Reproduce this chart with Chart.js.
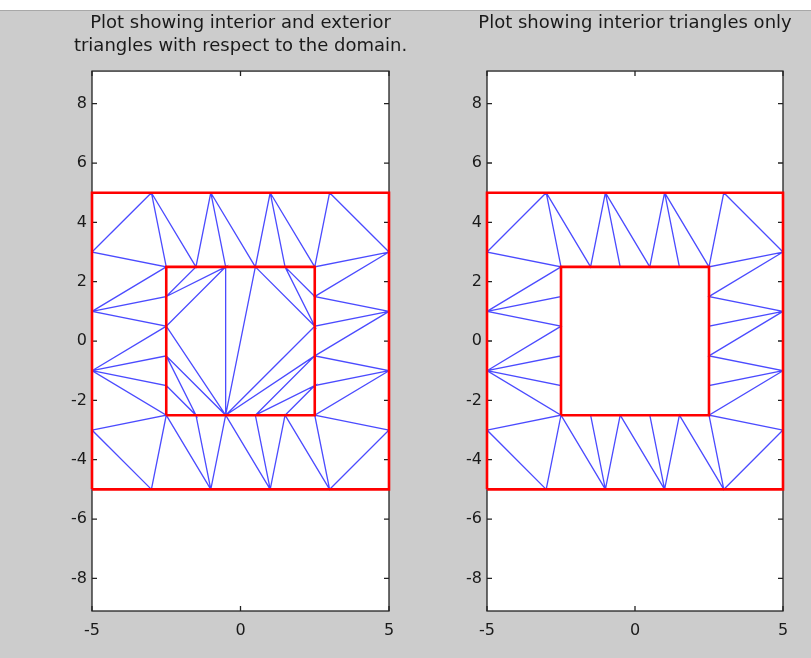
<!DOCTYPE html>
<html lang="en">
<head>
  <meta charset="UTF-8" />
  <title>Interior and exterior triangles</title>
  <script src="https://cdn.jsdelivr.net/npm/chart.js"></script>
  <style>
    body { margin: 0; background: #cccccc; width: 811px; height: 658px; overflow: hidden; position: relative; }
    #strip { position: absolute; left: 0; top: 0; width: 811px; height: 10px; background: #fff; border-bottom: 1px solid #a8a8a8; }
    canvas { position: absolute; top: 0; }
    #left { left: 0; }
    #right { left: 459px; }
  </style>
</head>
<body>
  <div id="strip"></div>
  <canvas id="left" width="481" height="658"></canvas>
  <canvas id="right" width="352" height="658"></canvas>
  <script>
  // mesh nodes: 20 on the outer square, 20 on the inner square
  const nodeX = [-5, -3, -1, 1, 3, 5, 5, 5, 5, 5, 5, 3, 1, -1, -3, -5, -5, -5, -5, -5,
                 -2.5, -1.5, -0.5, 0.5, 1.5, 2.5, 2.5, 2.5, 2.5, 2.5, 2.5, 1.5, 0.5, -0.5, -1.5, -2.5, -2.5, -2.5, -2.5, -2.5];
  const nodeY = [-5, -5, -5, -5, -5, -5, -3, -1, 1, 3, 5, 5, 5, 5, 5, 5, 3, 1, -1, -3,
                 -2.5, -2.5, -2.5, -2.5, -2.5, -2.5, -1.5, -0.5, 0.5, 1.5, 2.5, 2.5, 2.5, 2.5, 2.5, 2.5, 1.5, 0.5, -0.5, -1.5];

  // triangles between the two squares (inside the domain)
  const ringTri = [
    [15, 14, 16], [14, 16, 35], [14, 35, 34], [14, 13, 34], [13, 34, 33], [13, 33, 32],
    [13, 12, 32], [12, 32, 31], [12, 31, 30], [12, 11, 30], [11, 30, 9], [11, 10, 9],
    [9, 30, 29], [9, 29, 8], [8, 29, 28], [8, 28, 27], [8, 27, 7], [7, 27, 26], [7, 26, 25], [7, 25, 6],
    [6, 25, 4], [6, 4, 5], [4, 25, 24], [4, 24, 3], [3, 24, 23], [3, 23, 22],
    [3, 22, 2], [2, 22, 21], [2, 21, 20], [2, 20, 1], [1, 20, 19], [1, 19, 0],
    [19, 20, 18], [18, 20, 39], [18, 39, 38], [18, 38, 37], [18, 37, 17], [17, 37, 36], [17, 36, 35], [17, 35, 16]
  ];

  // triangles filling the hole (outside the domain)
  const holeTri = [
    [35, 34, 36], [36, 34, 33], [36, 33, 37], [37, 33, 22], [37, 22, 38], [38, 22, 21], [38, 21, 39], [39, 21, 20],
    [33, 32, 22],
    [32, 22, 28], [22, 28, 27], [22, 27, 23], [23, 27, 26], [23, 26, 24], [24, 26, 25],
    [32, 28, 31], [31, 28, 29], [31, 29, 30]
  ];

  // domain boundary
  const outerBoxX = [-5, 5, 5, -5, -5];
  const outerBoxY = [-5, -5, 5, 5, -5];
  const innerBoxX = [-2.5, 2.5, 2.5, -2.5, -2.5];
  const innerBoxY = [-2.5, -2.5, 2.5, 2.5, -2.5];

  const xTicks = [-5, 0, 5];
  const yTicks = [-8, -6, -4, -2, 0, 2, 4, 6, 8];
  const xLim = [-5, 5];
  const yLim = [-9.1, 9.1];

  function triPath(tris) {
    const pts = [];
    tris.forEach(t => {
      [t[0], t[1], t[2], t[0]].forEach(i => pts.push({ x: nodeX[i], y: nodeY[i] }));
      pts.push({ x: null, y: null });
    });
    return pts;
  }

  function boxPath() {
    const pts = outerBoxX.map((v, i) => ({ x: v, y: outerBoxY[i] }));
    pts.push({ x: null, y: null });
    innerBoxX.forEach((v, i) => pts.push({ x: v, y: innerBoxY[i] }));
    return pts;
  }

  // white axes, black box and inward ticks on all four sides
  const axesBox = {
    id: 'axesBox',
    beforeDatasetsDraw(chart) {
      const { ctx, chartArea: a, scales } = chart;
      const tl = 5;
      ctx.save();
      ctx.fillStyle = '#fff';
      ctx.fillRect(a.left, a.top, a.right - a.left, a.bottom - a.top);
      ctx.strokeStyle = '#222';
      ctx.lineWidth = 1.3;
      ctx.strokeRect(a.left, a.top, a.right - a.left, a.bottom - a.top);
      ctx.beginPath();
      xTicks.forEach(v => {
        const px = scales.x.getPixelForValue(v);
        ctx.moveTo(px, a.bottom); ctx.lineTo(px, a.bottom - tl);
        ctx.moveTo(px, a.top); ctx.lineTo(px, a.top + tl);
      });
      yTicks.forEach(v => {
        const py = scales.y.getPixelForValue(v);
        ctx.moveTo(a.left, py); ctx.lineTo(a.left + tl, py);
        ctx.moveTo(a.right, py); ctx.lineTo(a.right - tl, py);
      });
      ctx.stroke();
      ctx.restore();
    }
  };

  function makeChart(id, tris, title, yWidth, titlePad) {
    return new Chart(document.getElementById(id), {
      type: 'scatter',
      data: {
        datasets: [
          {
            data: boxPath(), showLine: true, spanGaps: false, borderColor: '#ff0000', borderWidth: 2.6,
            pointRadius: 0, clip: false, order: 0
          },
          {
            data: triPath(tris), showLine: true, spanGaps: false, borderColor: 'rgb(75,75,255)', borderWidth: 1.3,
            pointRadius: 0, clip: false, order: 1
          }
        ]
      },
      options: {
        responsive: false,
        animation: false,
        events: [],
        layout: { padding: 0 },
        plugins: {
          legend: { display: false },
          tooltip: { enabled: false },
          title: {
            display: true, text: title, color: '#1a1a1a',
            font: { family: 'DejaVu Sans', size: 18, weight: 'normal', lineHeight: 1.28 },
            padding: titlePad
          }
        },
        scales: {
          x: {
            type: 'linear', min: xLim[0], max: xLim[1],
            grid: { display: false, drawTicks: false }, border: { display: false },
            afterBuildTicks: s => { s.ticks = xTicks.map(v => ({ value: v })); },
            afterFit: s => { s.height = 47; },
            ticks: { padding: 10, color: '#1a1a1a', maxRotation: 0, autoSkip: false,
              font: { family: 'DejaVu Sans', size: 16 }, callback: v => String(v) }
          },
          y: {
            type: 'linear', min: yLim[0], max: yLim[1],
            grid: { display: false, drawTicks: false }, border: { display: false },
            afterBuildTicks: s => { s.ticks = yTicks.map(v => ({ value: v })); },
            afterFit: s => { s.width = yWidth; },
            ticks: { padding: 5, color: '#1a1a1a', autoSkip: false,
              font: { family: 'DejaVu Sans', size: 16 }, callback: v => String(v) }
          },
          // right-hand side of the box: ticks only, no labels
          y2: {
            type: 'linear', position: 'right', min: yLim[0], max: yLim[1],
            grid: { display: false, drawTicks: false }, border: { display: false },
            ticks: { display: false },
            afterFit: s => { s.width = yWidth; }
          }
        }
      },
      plugins: [axesBox]
    });
  }

  makeChart('left', ringTri.concat(holeTri),
    ['Plot showing interior and exterior', 'triangles with respect to the domain.'],
    92, { top: 12, bottom: 13 });
  makeChart('right', ringTri,
    'Plot showing interior triangles only',
    28, { top: 12, bottom: 36 });
  </script>
</body>
</html>
